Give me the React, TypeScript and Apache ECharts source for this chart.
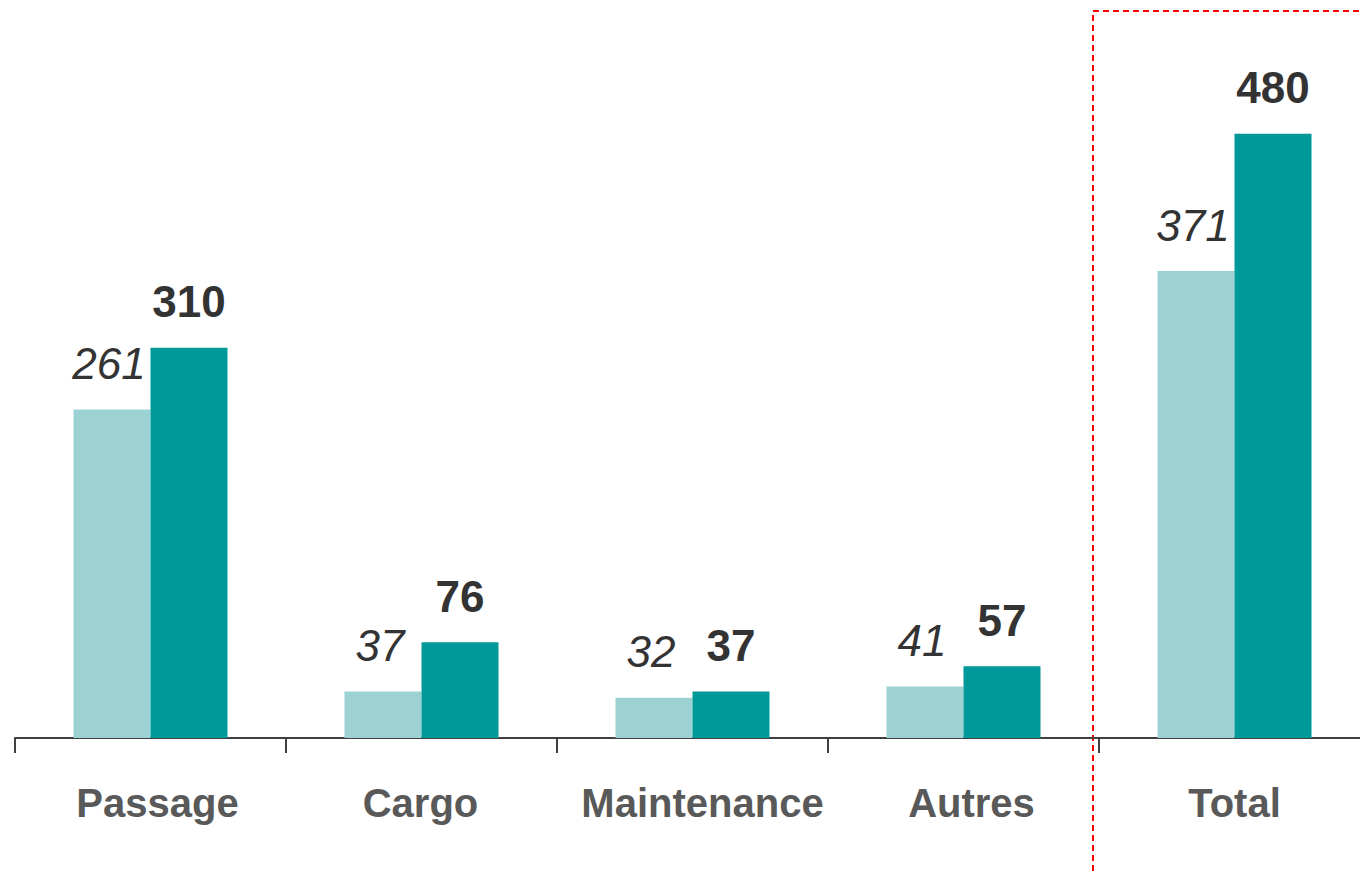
import React, { useEffect, useRef } from "react";
import * as echarts from "echarts";

const categories = ["Passage", "Cargo", "Maintenance", "Autres", "Total"];
const previousValues = [261, 37, 32, 41, 371];
const currentValues = [310, 76, 37, 57, 480];

// horizontal nudge of each category label (px), to follow the reference's placement
const labelNudge = [7, -1, 10, 8, 0];

const FONT = "'Liberation Sans', Arial, sans-serif";

export default function App() {
  const ref = useRef<HTMLDivElement>(null);
  useEffect(() => {
    if (!ref.current) return;
    const chart = echarts.init(ref.current, undefined, { renderer: "svg" });
    chart.setOption({
      animation: false,
      backgroundColor: "#ffffff",
      grid: { left: 15, right: 0, top: 8, bottom: 137, containLabel: false },
      xAxis: {
        type: "category",
        data: categories.map((c, i) => ({
          value: c,
          textStyle: {
            padding: labelNudge[i] >= 0 ? [0, 0, 0, labelNudge[i] * 2] : [0, -labelNudge[i] * 2, 0, 0],
          },
        })),
        axisLine: { show: true, lineStyle: { color: "#404040", width: 2 } },
        axisTick: { show: true, interval: 0, length: 15, lineStyle: { color: "#404040", width: 2 } },
        axisLabel: {
          interval: 0,
          margin: 45,
          fontSize: 40,
          fontWeight: "bold",
          color: "#595959",
          fontFamily: FONT,
        },
      },
      yAxis: {
        type: "value",
        min: 0,
        max: 580,
        show: false,
        splitLine: { show: false },
      },
      series: [
        {
          type: "bar",
          data: previousValues,
          barWidth: 77,
          barGap: "0%",
          itemStyle: { color: "#9DD2D5" },
          label: {
            show: true,
            position: "top",
            distance: 24,
            offset: [-3, 0],
            fontSize: 44,
            fontStyle: "italic",
            fontWeight: "normal",
            color: "#333333",
            fontFamily: FONT,
          },
        },
        {
          type: "bar",
          data: currentValues,
          barWidth: 77,
          barGap: "0%",
          itemStyle: { color: "#009999" },
          label: {
            show: true,
            position: "top",
            distance: 24,
            fontSize: 44,
            fontWeight: "bold",
            color: "#333333",
            fontFamily: FONT,
          },
        },
      ],
      graphic: [
        {
          type: "rect",
          shape: { x: 1093, y: 11, width: 400, height: 1000 },
          style: { fill: "none", stroke: "#FF0000", lineWidth: 2, lineDash: [6, 4] },
          silent: true,
        },
      ],
    });
    return () => chart.dispose();
  }, []);
  return (
    <div
      style={{
        position: "absolute",
        left: 0,
        top: 0,
        width: 1360,
        height: 875,
        overflow: "hidden",
      }}
    >
      <div ref={ref} style={{ width: 1370, height: 875 }} />
    </div>
  );
}
